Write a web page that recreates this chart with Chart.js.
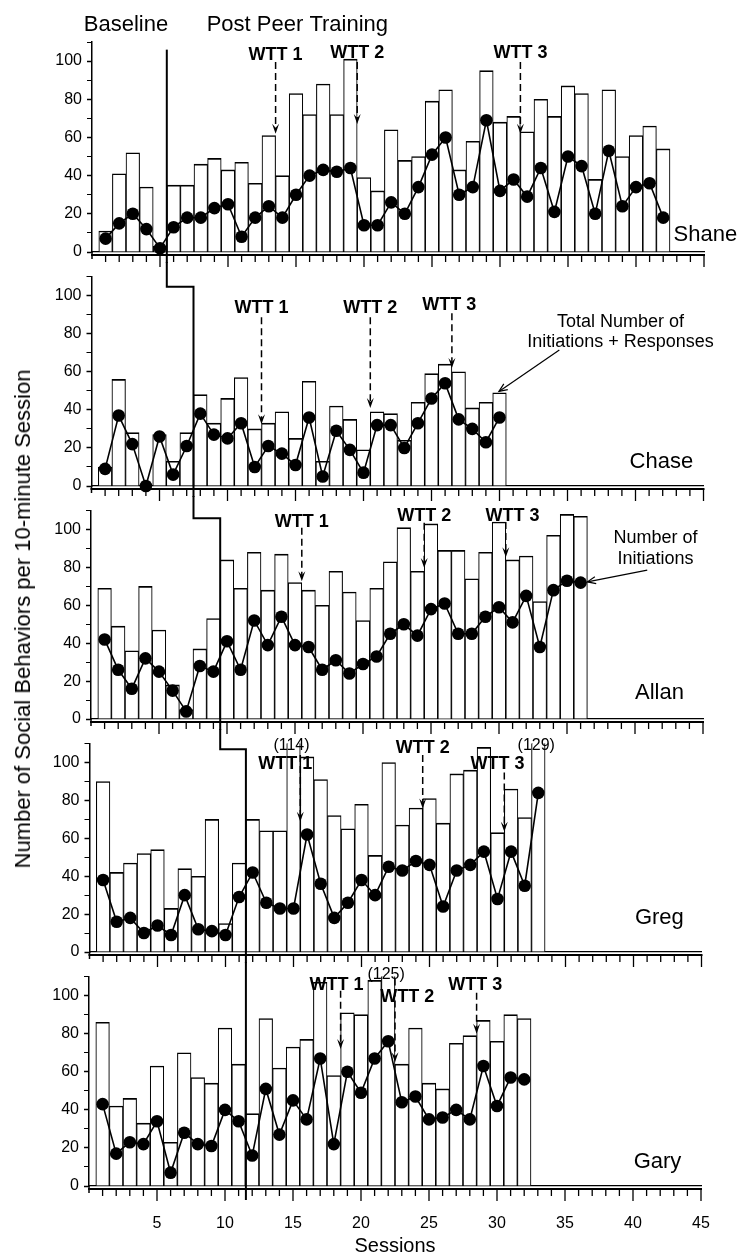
<!DOCTYPE html>
<html><head><meta charset="utf-8">
<script src="https://cdn.jsdelivr.net/npm/chart.js@4.4.1/dist/chart.umd.min.js"></script>
<style>
html,body{margin:0;padding:0;background:#fff;}
#wrap{position:relative;width:742px;height:1258px;overflow:hidden;background:#fff;}
.panel{position:absolute;left:0;width:742px;}
.panel canvas{display:block;}
#ytitle{position:absolute;left:23px;top:619px;transform:translate(-50%,-50%) rotate(-90deg);white-space:nowrap;font:22px 'Liberation Sans',Arial,Helvetica,sans-serif;color:#000;}
</style></head><body>
<div id="wrap">
  <div class="panel"><canvas id="c0"></canvas></div>
  <div class="panel"><canvas id="c1"></canvas></div>
  <div class="panel"><canvas id="c2"></canvas></div>
  <div class="panel"><canvas id="c3"></canvas></div>
  <div class="panel"><canvas id="c4"></canvas></div>
  <div id="ytitle">Number of Social Behaviors per 10-minute Session</div>
</div>
<script>
// ---------------- data ----------------
const xTickLabels = [5, 10, 15, 20, 25, 30, 35, 40, 45];
const yTickLabels = [0, 20, 40, 60, 80, 100];

const shaneTotal = [11,41,52,34,3,35,35,46,49,43,47,36,61,40,83,72,88,72,101,39,32,64,48,50,79,85,43,58,95,68,71,63,80,71,87,83,38,85,50,61,66,54];
const shaneInit  = [7,15,20,12,2,13,18,18,23,25,8,18,24,18,30,40,43,42,44,14,14,26,20,34,51,60,30,34,69,32,38,29,44,21,50,45,20,53,24,34,36,18];

const chaseTotal = [10,56,28,0,27,13,28,48,33,46,57,30,33,39,25,55,13,42,35,19,39,38,24,44,59,64,60,41,44,49];
const chaseInit  = [9,37,22,0,26,6,21,38,27,25,33,10,21,17,11,36,5,29,19,7,32,32,20,33,46,54,35,30,23,36];

const allanTotal = [69,49,36,70,47,18,5,37,53,84,69,88,68,87,72,68,60,78,67,52,69,83,101,78,103,89,89,74,88,104,84,86,62,97,108,107];
const allanInit  = [42,26,16,32,25,15,4,28,25,41,26,52,39,54,39,38,26,31,24,29,33,45,50,44,58,61,45,45,54,59,51,65,38,68,73,72];

const gregTotal = [90,42,47,52,54,23,44,40,70,15,47,70,64,64,114,103,91,72,65,78,51,100,67,76,81,68,94,96,108,63,86,71,129];
const gregInit  = [38,16,18,10,14,9,30,12,11,9,29,42,26,23,23,62,36,18,26,38,30,45,43,48,46,24,43,46,53,28,53,35,84];

const garyTotal = [86,42,46,33,63,23,70,57,54,83,64,38,88,62,73,77,107,58,91,90,108,125,64,83,54,51,75,79,87,76,90,88];
const garyInit  = [43,17,23,22,34,7,28,22,21,40,34,16,51,27,45,35,67,22,60,49,67,76,44,47,35,36,40,35,63,42,57,56];

// ---------------- layout / annotations ----------------
const FONT = "'Liberation Sans', Arial, Helvetica, sans-serif";
const X_MAX = 45, Y_MAX = 110, PLOT_W = 612, Y_AXIS_W = 50, W = 742;

const panels = [
  {name:'Shane', total:shaneTotal, init:shaneInit, top:0, bottom:275, left:92, chartTop:42, y0:252,
   phase:{prev:null, x:5.5, top:106}, nameAt:[45.1, 8.9], overY:108,
   wtt:[{label:'WTT 1', x:13.5, tx:13.5, ty:103.1, from:99.5, to:62},
        {label:'WTT 2', x:19.5, tx:19.5, ty:104.2, from:99.5, to:67},
        {label:'WTT 3', x:31.5, tx:31.5, ty:104.2, from:99.5, to:62}],
   headers:[{text:'Baseline', x:2.5, y:118.8}, {text:'Post Peer Training', x:15.1, y:118.8}]},
  {name:'Chase', total:chaseTotal, init:chaseInit, top:262, bottom:505, left:91.5, chartTop:274, y0:486,
   phase:{prev:5.5, x:7.5, step:104.7}, nameAt:[41.9, 12.4], overY:108,
   wtt:[{label:'WTT 1', x:12.5, tx:12.5, ty:93.3, from:88.6, to:32.5},
        {label:'WTT 2', x:20.5, tx:20.5, ty:93.3, from:88.6, to:41},
        {label:'WTT 3', x:26.5, tx:26.3, ty:95.3, from:90.7, to:62}],
   note:{lines:['Total Number of','Initiations + Responses'], x:38.9, ys:[86, 75.6], from:[34.4,71.5], to:[29.96,49.7]}},
  {name:'Allan', total:allanTotal, init:allanInit, top:496, bottom:738, left:91, chartTop:508, y0:719,
   phase:{prev:7.5, x:9.5, step:106}, nameAt:[41.8, 14], overY:108,
   wtt:[{label:'WTT 1', x:15.5, tx:15.5, ty:104.2, from:101, to:72.7},
        {label:'WTT 2', x:24.5, tx:24.5, ty:107.3, from:103.6, to:79.7},
        {label:'WTT 3', x:30.5, tx:31.0, ty:107.3, from:104, to:85.4}],
   note:{lines:['Number of','Initiations'], x:41.5, ys:[95.3, 84.4], from:[40.9,78.6], to:[36.5,72.4]}},
  {name:'Greg', total:gregTotal, init:gregInit, top:729, bottom:972, left:89.5, chartTop:741, y0:952,
   phase:{prev:9.5, x:11.5, step:107}, nameAt:[41.9, 18.2], overY:108.9,
   wtt:[{label:'WTT 1', x:15.5, tx:14.4, ty:99, from:104, to:68.75},
        {label:'WTT 2', x:24.5, tx:24.5, ty:107.8, from:104, to:75.7},
        {label:'WTT 3', x:30.5, tx:30.0, ty:99, from:94.8, to:63.5}]},
  {name:'Gary', total:garyTotal, init:garyInit, top:962, bottom:1258, left:89, chartTop:974, y0:1186,
   phase:{prev:11.5, x:11.5, step:null}, nameAt:[41.8, 12.4], overY:110.9,
   wtt:[{label:'WTT 1', x:18.5, tx:18.2, ty:105.7, from:102.6, to:72},
        {label:'WTT 2', x:22.5, tx:23.4, ty:99.5, from:109, to:65},
        {label:'WTT 3', x:28.5, tx:28.4, ty:105.7, from:101.5, to:80}]}
];

Chart.defaults.font.family = FONT;
Chart.defaults.color = '#000';
const charts = [];

function makeDeco(P, i) {
  const last = i === panels.length - 1;
  return {
    id: 'deco' + i,
    afterDraw(chart) {
      const ctx = chart.ctx, a = chart.chartArea, xs = chart.scales.x, ys = chart.scales.y;
      const X = v => xs.getPixelForValue(v), Y = v => ys.getPixelForValue(v);
      const seg = (x1, y1, x2, y2) => { ctx.beginPath(); ctx.moveTo(x1, y1); ctx.lineTo(x2, y2); ctx.stroke(); };
      ctx.save();
      ctx.strokeStyle = '#000'; ctx.fillStyle = '#000'; ctx.lineCap = 'butt';
      // second (heavy) axis line with session ticks
      const yb = a.bottom + 3;
      ctx.lineWidth = 2; seg(a.left - 1, yb, X(X_MAX) + 1, yb);
      ctx.lineWidth = 1.5; seg(a.left, a.bottom, a.left, a.bottom + 7);
      ctx.lineWidth = 1.3;
      for (let s = 1; s <= X_MAX; s++) seg(X(s), yb, X(s), yb + (s % 5 === 0 ? 12 : 7));
      // phase change line
      ctx.lineWidth = 2;
      const bottomY = last ? a.bottom + 14 : (panels[i + 1].top - P.top) + 1;
      const ph = P.phase;
      if (ph.prev == null) {
        seg(X(ph.x), Y(ph.top), X(ph.x), bottomY);
      } else {
        const px = charts[i - 1] ? charts[i - 1].scales.x.getPixelForValue(ph.prev) : X(ph.prev);
        ctx.beginPath();
        if (ph.step == null) { ctx.moveTo(px, 0); ctx.lineTo(px, bottomY); }
        else { ctx.moveTo(px, 0); ctx.lineTo(px, Y(ph.step)); ctx.lineTo(X(ph.x), Y(ph.step)); ctx.lineTo(X(ph.x), bottomY); }
        ctx.stroke();
      }
      // WTT arrows
      ctx.textAlign = 'center'; ctx.textBaseline = 'middle';
      for (const w of P.wtt) {
        const ax = X(w.x), ty = Y(w.to);
        ctx.lineWidth = 1.5; ctx.setLineDash([7, 4]);
        seg(ax, Y(w.from), ax, ty - 6);
        ctx.setLineDash([]);
        ctx.beginPath(); ctx.moveTo(ax - 3.5, ty - 10); ctx.lineTo(ax, ty); ctx.lineTo(ax + 3.5, ty - 10); ctx.lineTo(ax, ty - 6); ctx.closePath(); ctx.fill();
        ctx.font = 'bold 18px ' + FONT;
        ctx.fillText(w.label, X(w.tx), Y(w.ty));
      }
      // values of bars above the axis range
      ctx.font = '16px ' + FONT;
      P.total.forEach((v, k) => { if (v > Y_MAX) ctx.fillText('(' + v + ')', X(k + 1 - 0.15), Y(P.overY)); });
      // participant name
      ctx.font = '22px ' + FONT;
      ctx.fillText(P.name, X(P.nameAt[0]), Y(P.nameAt[1]));
      // phase headers
      if (P.headers) {
        ctx.font = '22px ' + FONT;
        for (const h of P.headers) ctx.fillText(h.text, X(h.x), Y(h.y));
      }
      // legend notes with arrows
      if (P.note) {
        const n = P.note;
        ctx.font = '18px ' + FONT;
        n.lines.forEach((t, k) => ctx.fillText(t, X(n.x), Y(n.ys[k])));
        const x1 = X(n.from[0]), y1 = Y(n.from[1]), x2 = X(n.to[0]), y2 = Y(n.to[1]);
        ctx.lineWidth = 1.2; seg(x1, y1, x2, y2);
        const ang = Math.atan2(y2 - y1, x2 - x1), L = 9, sp = 0.4;
        ctx.beginPath();
        ctx.moveTo(x2 - L * Math.cos(ang - sp), y2 - L * Math.sin(ang - sp));
        ctx.lineTo(x2, y2);
        ctx.lineTo(x2 - L * Math.cos(ang + sp), y2 - L * Math.sin(ang + sp));
        ctx.stroke();
      }
      ctx.restore();
    }
  };
}

panels.forEach((P, i) => {
  const last = i === panels.length - 1;
  const canvas = document.getElementById('c' + i);
  const H = P.bottom - P.top;
  canvas.width = W; canvas.height = H;
  canvas.style.width = W + 'px'; canvas.style.height = H + 'px';
  canvas.parentNode.style.top = P.top + 'px';
  canvas.parentNode.style.height = H + 'px';
  const xAxisH = P.bottom - P.y0;
  const bars = P.total.map((v, k) => ({x: k + 1, y: v}));
  const pts = P.init.map((v, k) => ({x: k + 1, y: v}));
  const chart = new Chart(canvas, {
    type: 'bar',
    data: {datasets: [
      {type: 'bar', data: bars, backgroundColor: '#fff', borderColor: '#000',
       borderWidth: {top: 1.6, left: 1.1, right: 1.1, bottom: 0}, borderSkipped: false,
       barPercentage: 1, categoryPercentage: 1, order: 2,
       clip: {left: false, right: false, bottom: false, top: 0}},
      {type: 'line', data: pts, borderColor: '#000', borderWidth: 1.6, tension: 0,
       pointRadius: 6.3, pointBackgroundColor: '#000', pointBorderColor: '#000', pointBorderWidth: 0,
       order: 1, clip: false}
    ]},
    options: {
      responsive: false, animation: false, devicePixelRatio: 1,
      layout: {padding: {left: P.left - Y_AXIS_W, right: W - (P.left + PLOT_W), top: P.chartTop - P.top, bottom: 0}},
      plugins: {legend: {display: false}, tooltip: {enabled: false}},
      events: [],
      scales: {
        x: {type: 'linear', min: 0, max: X_MAX, offset: false,
            afterFit: s => { s.height = xAxisH; },
            grid: {display: false, offset: false},
            border: {display: true, color: '#000', width: 1.2},
            ticks: {display: last, stepSize: 5, autoSkip: false, maxRotation: 0, padding: 20,
                    font: {size: 16}, color: '#000',
                    callback: v => xTickLabels.includes(v) ? String(v) : ''},
            title: {display: last, text: 'Sessions', font: {size: 20}, color: '#000', padding: {top: 0, bottom: 0}}},
        y: {min: 0, max: Y_MAX,
            afterFit: s => { s.width = Y_AXIS_W; },
            grid: {drawOnChartArea: false, drawTicks: true, tickLength: 5, color: '#000',
                   tickWidth: c => (c.tick && yTickLabels.includes(c.tick.value)) ? 1.5 : 1},
            border: {display: true, color: '#000', width: 1.5},
            ticks: {stepSize: 10, autoSkip: false, padding: 5, font: {size: 16}, color: '#000',
                    callback: v => yTickLabels.includes(v) ? String(v) : ''}}
      }
    },
    plugins: [makeDeco(P, i)]
  });
  charts.push(chart);
});
</script>
</body></html>
